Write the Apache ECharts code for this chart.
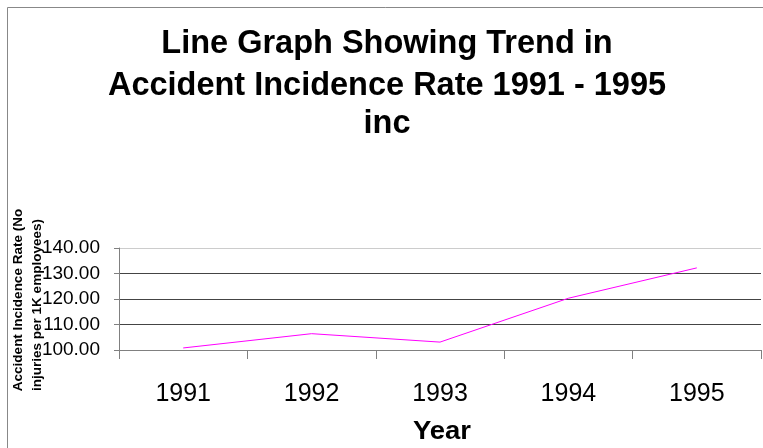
<!DOCTYPE html>
<html><head><meta charset="utf-8">
<script src="https://cdn.jsdelivr.net/npm/echarts@6/dist/echarts.min.js"></script>
<style>html,body{margin:0;padding:0;background:#fff}#c{width:763px;height:448px}</style>
</head><body><div id="c"></div>
<script>
var years = ['1991','1992','1993','1994','1995'];
var rates = [100.8, 106.4, 103.1, 120.3, 132.2];
var titleLines = ['Line Graph Showing Trend in','Accident Incidence Rate 1991 - 1995','inc'];
var yNameLines = ['Accident Incidence Rate (No','injuries per 1K employees)'];
var xName = 'Year';
var FONT = 'Liberation Sans, Arial, sans-serif';
var titleY = [44.5, 85.8, 124.5];
var chart = echarts.init(document.getElementById('c'));
chart.setOption({
  animation:false,
  backgroundColor:'#fff',
  graphic:[
    {type:'rect', shape:{x:7.5,y:7.5,width:800,height:500}, style:{fill:null, stroke:'#888', lineWidth:1}, silent:true, z:-10},
    {type:'group', x:387, y:0, children: titleLines.map(function(t,i){
      return {type:'text', x:0, y:titleY[i], style:{text:t, font:'bold 32.5px '+FONT, fill:'#000', align:'center', verticalAlign:'middle'}};
    })},
    {type:'text', x:442, y:432.5, scaleX:1.1, style:{text:xName, font:'bold 25px '+FONT, fill:'#000', align:'center', verticalAlign:'middle'}},
    {type:'text', x:18, y:300, rotation:Math.PI/2, style:{text:yNameLines[0], font:'bold 13.5px '+FONT, fill:'#000', align:'center', verticalAlign:'middle'}},
    {type:'text', x:37, y:305, rotation:Math.PI/2, style:{text:yNameLines[1], font:'bold 13.5px '+FONT, fill:'#000', align:'center', verticalAlign:'middle'}}
  ],
  grid:{left:119, right:2, top:248, bottom:98, containLabel:false},
  xAxis:{type:'category', data:years, boundaryGap:true,
    axisLine:{lineStyle:{color:'#808080', width:1}},
    axisTick:{show:true, length:9, alignWithLabel:false, lineStyle:{color:'#808080'}},
    axisLabel:{fontFamily:FONT, fontSize:25, color:'#000', margin:32}},
  yAxis:{type:'value', min:100, max:140, interval:10,
    axisLine:{show:true, lineStyle:{color:'#808080', width:1}},
    axisTick:{show:true, length:5, lineStyle:{color:'#808080'}},
    axisLabel:{fontFamily:FONT, fontSize:19, color:'#000', margin:19, formatter:function(v){return v.toFixed(2);}},
    splitLine:{show:true, lineStyle:{color:['#444','#444','#444','#444','#ccc'], width:1}}},
  series:[{type:'line', data:rates, symbol:'none', lineStyle:{color:'#ff00ff', width:1}, itemStyle:{color:'#ff00ff'}}]
});
</script></body></html>
